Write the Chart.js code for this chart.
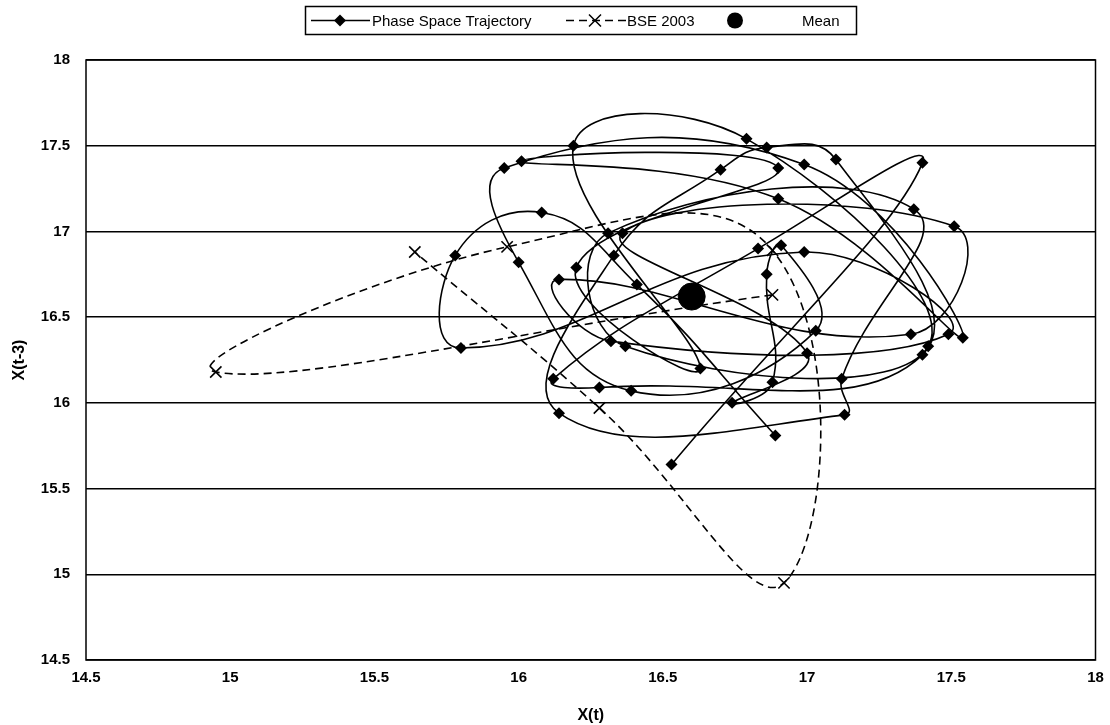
<!DOCTYPE html>
<html>
<head>
<meta charset="utf-8">
<script src="https://cdn.jsdelivr.net/npm/chart.js@4.4.1/dist/chart.umd.min.js"></script>
<style>
  html, body { margin: 0; padding: 0; background: #fff; }
  #wrap { width: 1110px; height: 725px; position: relative; }
</style>
</head>
<body>
<div id="wrap"><canvas id="chart"></canvas></div>
<script>
// Phase space trajectory, X(t) against X(t-3), points in drawing order
const trajX = [16.53, 17.40, 16.83, 16.12, 16.28, 17.40, 17.10, 16.86, 16.70, 16.33,
  16.14, 17.13, 17.12, 17.37, 16.31, 16.37, 17.42, 16.79, 16.19, 16.63,
  16.20, 16.90, 16.01, 16.90, 17.54, 16.99, 15.95, 16.00, 16.39, 17.03,
  16.91, 16.86, 16.88, 16.74, 17.00, 16.36, 17.51, 17.36, 16.14, 16.32,
  17.49, 16.99, 15.80, 15.78, 16.08, 16.41, 16.89];
const trajY = [15.64, 17.40, 16.90, 16.14, 16.09, 16.28, 17.42, 17.49, 17.36, 16.86,
  15.94, 15.93, 16.14, 17.13, 16.99, 16.33, 16.33, 17.54, 17.50, 16.20,
  16.79, 17.37, 17.41, 17.19, 16.38, 17.39, 17.37, 16.82, 16.07, 16.42,
  16.92, 16.75, 16.12, 16.00, 16.29, 16.99, 17.03, 16.40, 16.72, 16.36,
  16.40, 16.88, 16.32, 16.86, 17.11, 16.69, 15.81];

// BSE 2003
const bseX = [16.88, 14.95, 15.96, 16.88, 16.92, 16.28, 15.64];
const bseY = [16.63, 16.18, 16.91, 16.89, 14.95, 15.97, 16.88];

// Mean
const meanX = [16.6];
const meanY = [16.62];

const axisMin = 14.5;
const axisMax = 18;
const axisStep = 0.5;

const fontFamily = '"Liberation Sans", Arial, sans-serif';

function toPoints(xs, ys) {
  return xs.map((x, i) => ({ x: x, y: ys[i] }));
}

function halfSteps(scale) {
  const t = [];
  for (let v = axisMin; v <= axisMax + 1e-9; v += axisStep) t.push({ value: v });
  scale.ticks = t;
}

// legend box drawn like the spreadsheet one
const legendBox = {
  id: 'legendBox',
  afterDraw(chart) {
    const ctx = chart.ctx;
    ctx.save();
    ctx.strokeStyle = '#000';
    ctx.lineWidth = 1.5;
    ctx.strokeRect(305.5, 6.5, 551, 28);

    ctx.font = '15px ' + fontFamily;
    ctx.fillStyle = '#000';
    ctx.textBaseline = 'middle';
    const cy = 20.5;

    // solid line with diamond
    ctx.lineWidth = 1.5;
    ctx.beginPath();
    ctx.moveTo(311, cy);
    ctx.lineTo(370, cy);
    ctx.stroke();
    ctx.beginPath();
    ctx.moveTo(340, cy - 6);
    ctx.lineTo(346, cy);
    ctx.lineTo(340, cy + 6);
    ctx.lineTo(334, cy);
    ctx.closePath();
    ctx.fill();
    ctx.fillText('Phase Space Trajectory', 372, cy + 1);

    // dashed line with cross
    ctx.setLineDash([8, 5]);
    ctx.beginPath();
    ctx.moveTo(566, cy);
    ctx.lineTo(627, cy);
    ctx.stroke();
    ctx.setLineDash([]);
    ctx.beginPath();
    ctx.moveTo(589, cy - 6);
    ctx.lineTo(601, cy + 6);
    ctx.moveTo(601, cy - 6);
    ctx.lineTo(589, cy + 6);
    ctx.stroke();
    ctx.fillText('BSE 2003', 627, cy + 1);

    // mean dot
    ctx.beginPath();
    ctx.arc(735, cy, 8, 0, Math.PI * 2);
    ctx.fill();
    ctx.fillText('Mean', 802, cy + 1);
    ctx.restore();
  }
};

// frame round the plot area
const plotFrame = {
  id: 'plotFrame',
  afterDatasetsDraw(chart) {
    const a = chart.chartArea;
    const ctx = chart.ctx;
    ctx.save();
    ctx.strokeStyle = '#000';
    ctx.lineWidth = 1.5;
    ctx.strokeRect(a.left, a.top, a.right - a.left, a.bottom - a.top);
    ctx.restore();
  }
};

new Chart(document.getElementById('chart'), {
  type: 'scatter',
  data: {
    datasets: [
      {
        label: 'Phase Space Trajectory',
        data: toPoints(trajX, trajY),
        showLine: true,
        tension: 0.45,
        borderColor: '#000',
        backgroundColor: '#000',
        borderWidth: 1.6,
        pointStyle: 'rectRot',
        pointRadius: 6,
        pointBorderWidth: 0
      },
      {
        label: 'BSE 2003',
        data: toPoints(bseX, bseY),
        showLine: true,
        tension: 0.45,
        borderColor: '#000',
        backgroundColor: '#000',
        borderWidth: 1.6,
        borderDash: [8, 5],
        pointStyle: 'crossRot',
        pointRadius: 8,
        pointBorderWidth: 1.6
      },
      {
        label: 'Mean',
        data: toPoints(meanX, meanY),
        showLine: false,
        backgroundColor: '#000',
        borderColor: '#000',
        pointStyle: 'circle',
        pointRadius: 13.5
      }
    ]
  },
  options: {
    responsive: true,
    maintainAspectRatio: false,
    animation: false,
    layout: { padding: { left: 10, right: 13, top: 60, bottom: 0 } },
    plugins: {
      legend: { display: false },
      tooltip: { enabled: false }
    },
    scales: {
      x: {
        type: 'linear',
        min: axisMin,
        max: axisMax,
        afterFit(scale) {
          scale.height = 65;
          scale.paddingLeft = 0;
          scale.paddingRight = 0;
        },
        afterBuildTicks: halfSteps,
        grid: { display: false, drawTicks: false },
        border: { display: false },
        ticks: {
          color: '#000',
          padding: 9,
          maxRotation: 0,
          autoSkip: false,
          font: { family: fontFamily, size: 15, weight: 'bold' },
          callback: (v) => String(v)
        },
        title: {
          display: true,
          text: 'X(t)',
          color: '#000',
          padding: { top: 6, bottom: 0 },
          font: { family: fontFamily, size: 16, weight: 'bold' }
        }
      },
      y: {
        type: 'linear',
        min: axisMin,
        max: axisMax,
        afterFit(scale) { scale.width = 76; },
        afterBuildTicks: halfSteps,
        grid: { display: true, color: '#000', lineWidth: 1.5, drawTicks: false },
        border: { display: false },
        ticks: {
          color: '#000',
          padding: 16,
          autoSkip: false,
          font: { family: fontFamily, size: 15, weight: 'bold' },
          callback: (v) => String(v)
        },
        title: {
          display: true,
          text: 'X(t-3)',
          color: '#000',
          padding: { top: 0, bottom: 0 },
          font: { family: fontFamily, size: 16, weight: 'bold' }
        }
      }
    }
  },
  plugins: [legendBox, plotFrame]
});
</script>
</body>
</html>
